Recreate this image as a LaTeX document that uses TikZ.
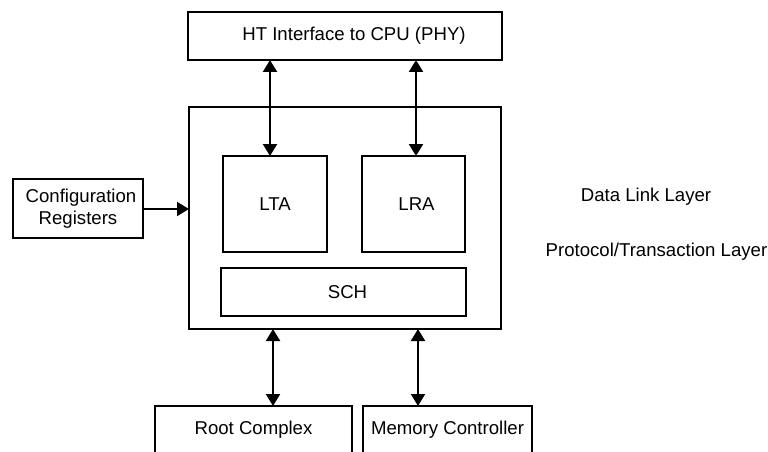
\documentclass[tikz,border=0pt]{standalone}
\usepackage{fontspec}
\setmainfont{Liberation Sans}
\usetikzlibrary{arrows.meta}
\begin{document}
\begin{tikzpicture}[x=1pt,y=-1pt,
  box/.style={draw,line width=2pt,inner sep=0pt,outer sep=0pt,align=center,
    font=\fontsize{18.6}{21.5}\selectfont},
  plain/.style={inner sep=0pt,font=\fontsize{18.6}{21.5}\selectfont},
  arr/.style={line width=2pt,-{Triangle[length=12pt,width=14pt]}},
  darr/.style={line width=2pt,{Triangle[length=12pt,width=14pt]}-{Triangle[length=12pt,width=14pt]}}]
\useasboundingbox (0,0) rectangle (768,452);
\clip (0,0) rectangle (768,452);
\node[box,minimum width=314pt,minimum height=48pt] (ht) at (345,36) {\hspace*{18pt}HT Interface to CPU (PHY)};
\node[box,minimum width=312pt,minimum height=222pt] (main) at (345,218) {};
\node[box,minimum width=104pt,minimum height=96pt] (lta) at (275,204) {LTA};
\node[box,minimum width=103pt,minimum height=96pt] (lra) at (413.5,204) {\hspace*{6pt}LRA};
\node[box,minimum width=245pt,minimum height=48pt] (sch) at (343.5,292) {\hspace*{8pt}SCH};
\node[box,minimum width=130pt,minimum height=59pt] (cfg) at (78,208.5) {\hspace*{6pt}Configuration\\Registers};
\node[box,minimum width=197pt,minimum height=48pt] (rc) at (253.5,430) {Root Complex};
\node[box,minimum width=169pt,minimum height=48pt] (mc) at (447.5,430) {Memory Controller};
\node[plain] (dll) at (646,197) {Data Link Layer};
\node[plain] (ptl) at (656.5,252) {Protocol/Transaction Layer};
\coordinate (xa) at (270,0);
\coordinate (xb) at (416,0);
\coordinate (xc) at (273,0);
\coordinate (xd) at (418,0);
\coordinate (ya) at (0,209);
\draw[darr] (ht.south -| xa) -- (lta.north -| xa);
\draw[darr] (ht.south -| xb) -- (lra.north -| xb);
\draw[arr] (cfg.east |- ya) -- (main.west |- ya);
\draw[darr] (main.south -| xc) -- (rc.north -| xc);
\draw[darr] (main.south -| xd) -- (mc.north -| xd);
\end{tikzpicture}
\end{document}
